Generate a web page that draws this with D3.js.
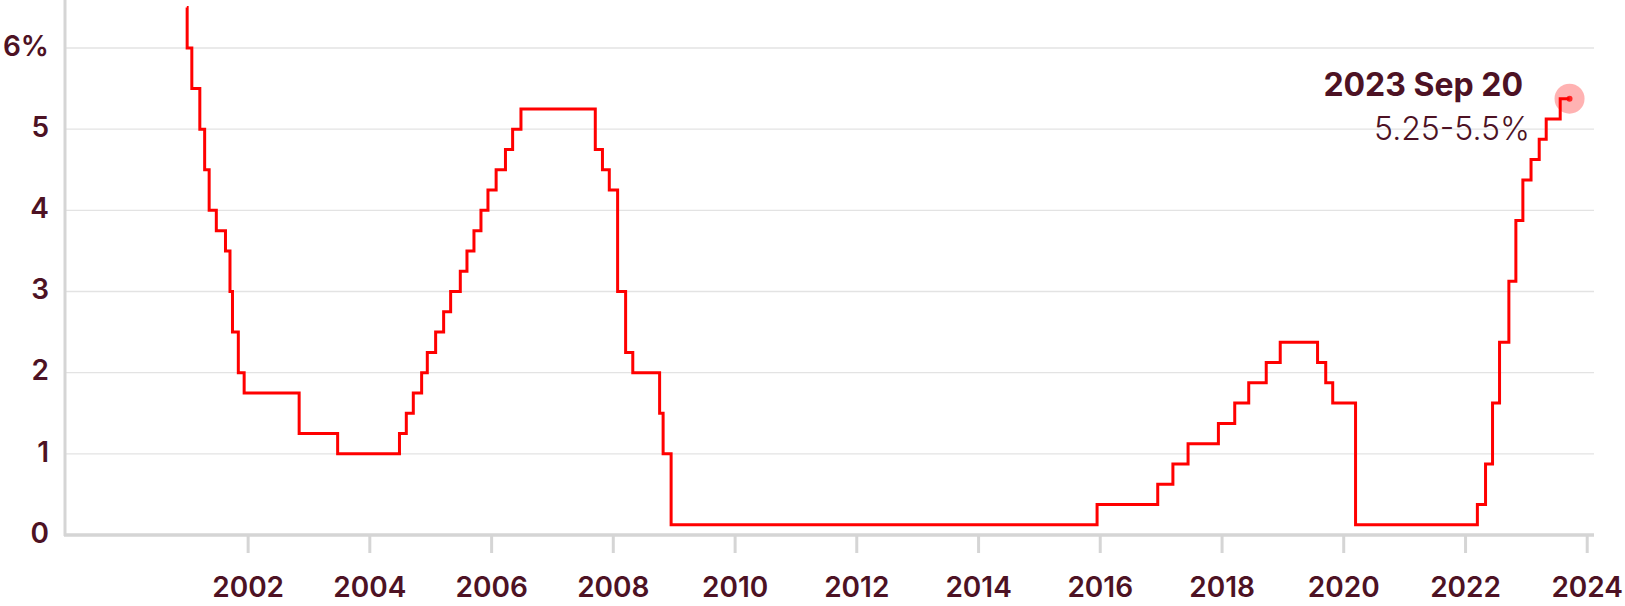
<!DOCTYPE html>
<html>
<head>
<meta charset="utf-8">
<script src="https://cdn.jsdelivr.net/npm/d3@7"></script>
<style>
  html, body { margin: 0; padding: 0; background: #ffffff; }
  svg { display: block; }
  text { font-family: Inter, "Liberation Sans", sans-serif; }
</style>
</head>
<body>
<svg id="chart" width="1625" height="606"></svg>
<script>
// ---- data ----
const changeDates = [
  "2001-01-01","2001-01-03","2001-01-31","2001-03-20","2001-04-18","2001-05-15","2001-06-27","2001-08-21","2001-09-17","2001-10-02","2001-11-06","2001-12-11",
  "2002-11-06","2003-06-25",
  "2004-06-30","2004-08-10","2004-09-21","2004-11-10","2004-12-14",
  "2005-02-02","2005-03-22","2005-05-03","2005-06-30","2005-08-09","2005-09-20","2005-11-01","2005-12-13",
  "2006-01-31","2006-03-28","2006-05-10","2006-06-29",
  "2007-09-18","2007-10-31","2007-12-11",
  "2008-01-30","2008-03-18","2008-04-30","2008-10-08","2008-10-29","2008-12-16",
  "2015-12-16","2016-12-14",
  "2017-03-15","2017-06-14","2017-12-13",
  "2018-03-21","2018-06-13","2018-09-26","2018-12-19",
  "2019-07-31","2019-09-18","2019-10-30",
  "2020-03-15",
  "2022-03-16","2022-05-04","2022-06-15","2022-07-27","2022-09-21","2022-11-02","2022-12-14",
  "2023-02-01","2023-03-22","2023-05-03","2023-07-26","2023-09-20"
];
const rateValues = [
  6.5, 6.0, 5.5, 5.0, 4.5, 4.0, 3.75, 3.5, 3.0, 2.5, 2.0, 1.75,
  1.25, 1.0,
  1.25, 1.5, 1.75, 2.0, 2.25,
  2.5, 2.75, 3.0, 3.25, 3.5, 3.75, 4.0, 4.25,
  4.5, 4.75, 5.0, 5.25,
  4.75, 4.5, 4.25,
  3.0, 2.25, 2.0, 1.5, 1.0, 0.125,
  0.375, 0.625,
  0.875, 1.125, 1.375,
  1.625, 1.875, 2.125, 2.375,
  2.125, 1.875, 1.625,
  0.125,
  0.375, 0.875, 1.625, 2.375, 3.125, 3.875, 4.375,
  4.625, 4.875, 5.125, 5.375, 5.375
];
const yTicks = [0, 1, 2, 3, 4, 5, 6];
const yTickLabels = ["0", "1", "2", "3", "4", "5", "6%"];
const xTickYears = [2002, 2004, 2006, 2008, 2010, 2012, 2014, 2016, 2018, 2020, 2022, 2024];
const annotationDate = "2023 Sep 20";
const annotationRange = "5.25-5.5%";

// ---- build ----
const parse = d3.timeParse("%Y-%m-%d");
const data = changeDates.map((d, i) => ({ date: parse(d), value: rateValues[i] }));

const svg = d3.select("#chart");
const textColor = "#4d1224";
const axisGray = "#d5d5d5";
const gridGray = "#e3e3e3";

const x = d3.scaleTime()
  .domain([new Date(1999, 0, 1), new Date(2024, 0, 1)])
  .range([65, 1586.7]);
const y = d3.scaleLinear()
  .domain([0, 6])
  .range([535, 48]);

const plotRight = 1594;

// gridlines
svg.append("g")
  .selectAll("line")
  .data(yTicks.filter(v => v > 0))
  .join("line")
  .attr("x1", 66).attr("x2", plotRight)
  .attr("y1", d => y(d)).attr("y2", d => y(d))
  .attr("stroke", gridGray).attr("stroke-width", 1.3);

// left axis line
svg.append("line")
  .attr("x1", 65).attr("x2", 65)
  .attr("y1", 0).attr("y2", 536)
  .attr("stroke", axisGray).attr("stroke-width", 3);

// bottom axis (d3 axis for ticks)
const xAxis = d3.axisBottom(x)
  .tickValues(xTickYears.map(yr => new Date(yr, 0, 1)))
  .tickFormat(d3.timeFormat("%Y"))
  .tickSize(18)
  .tickPadding(24);
const gx = svg.append("g")
  .attr("transform", "translate(0,535)")
  .call(xAxis);
gx.select(".domain").remove();
gx.selectAll(".tick line")
  .attr("stroke", axisGray).attr("stroke-width", 3);
gx.selectAll(".tick text")
  .attr("fill", textColor)
  .attr("font-size", 28)
  .attr("font-weight", 600)
  .attr("font-family", "Inter, 'Liberation Sans', sans-serif");

svg.append("line")
  .attr("x1", 64).attr("x2", plotRight)
  .attr("y1", 535).attr("y2", 535)
  .attr("stroke", axisGray).attr("stroke-width", 3.5);

// y labels
svg.append("g")
  .selectAll("text")
  .data(yTicks)
  .join("text")
  .attr("x", 49)
  .attr("y", d => y(d) - 2)
  .attr("dy", "0.35em")
  .attr("text-anchor", "end")
  .attr("fill", textColor)
  .attr("font-size", 28)
  .attr("font-weight", 600)
  .text((d, i) => yTickLabels[i]);

// step line
const line = d3.line()
  .x(d => x(d.date))
  .y(d => y(d.value))
  .curve(d3.curveStepAfter);

svg.append("path")
  .datum(data)
  .attr("d", line)
  .attr("fill", "none")
  .attr("stroke", "#ff0000")
  .attr("stroke-width", 3);

// end marker
const last = data[data.length - 1];
svg.append("circle")
  .attr("cx", x(last.date)).attr("cy", y(last.value))
  .attr("r", 15)
  .attr("fill", "#ff0000").attr("fill-opacity", 0.3);
svg.append("circle")
  .attr("cx", x(last.date)).attr("cy", y(last.value))
  .attr("r", 3)
  .attr("fill", "#ff0000").attr("fill-opacity", 0.8);

// annotation
svg.append("text")
  .attr("x", 1523).attr("y", 96)
  .attr("text-anchor", "end")
  .attr("fill", textColor)
  .attr("font-size", 32)
  .attr("font-weight", 700)
  .text(annotationDate);
svg.append("text")
  .attr("x", 1530).attr("y", 140)
  .attr("text-anchor", "end")
  .attr("fill", textColor)
  .attr("font-size", 32)
  .attr("font-weight", 300)
  .text(annotationRange);
</script>
</body>
</html>
